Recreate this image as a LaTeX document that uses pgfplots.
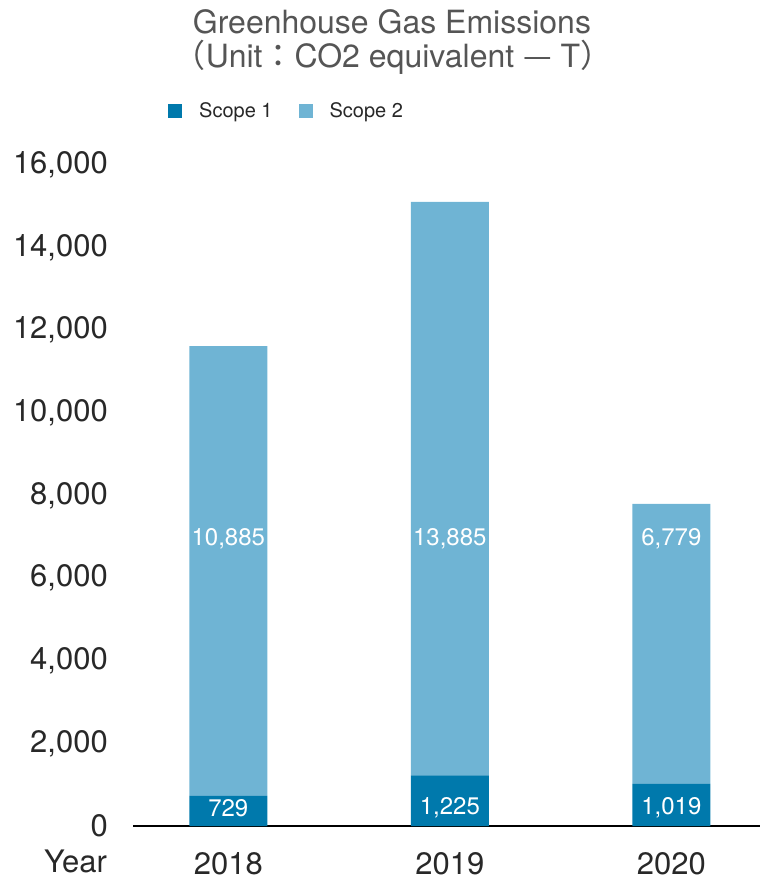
\documentclass[border=0pt]{standalone}
\usepackage{pgfplots}
\pgfplotsset{compat=1.18}
\usepackage{fontspec}
\setmainfont{TeX Gyre Heros}
\newfontfamily\cjk{Noto Sans CJK TC}
\definecolor{scopeone}{RGB}{0,121,172}
\definecolor{scopetwo}{RGB}{111,180,212}
\definecolor{titlegray}{RGB}{85,85,85}
\definecolor{ticktext}{RGB}{40,40,40}
\begin{document}
\begin{tikzpicture}[x=1pt,y=1pt]
\path[use as bounding box] (0,0) rectangle (760,880);
\begin{axis}[
  at={(133pt,54pt)}, anchor=south west,
  scale only axis, width=627pt, height=661pt,
  xmin=-0.43, xmax=2.40, ymin=0, ymax=16000,
  ybar stacked, bar width=78pt,
  xtick={0,1,2}, xticklabels={2018,2019,2020},
  ytick={0,2000,...,16000},
  scaled y ticks=false,
  axis x line*=bottom, axis y line*=left,
  y axis line style={draw=none},
  x axis line style={line width=2pt, black},
  major tick length=0pt,
  ticklabel style={font=\fontsize{31}{36}\selectfont, text=ticktext},
  yticklabel style={anchor=east, inner sep=0pt, xshift=-25pt, /pgf/number format/fixed, /pgf/number format/1000 sep={,}},
  xticklabel style={anchor=north, inner sep=0pt, yshift=-26pt},
  /pgf/number format/assume math mode=true,
  legend columns=2,
  legend style={at={(0.0558,1.0817)}, anchor=west, draw=none, fill=none, inner sep=0pt,
    font=\fontsize{20}{24}\selectfont, text=ticktext,
    /tikz/every odd column/.append style={column sep=15pt},
    /tikz/every even column/.append style={column sep=24pt}},
]
\addplot[draw=none, fill=scopeone, legend image code/.code={\fill[scopeone] (0pt,-7pt) rectangle (14pt,7pt);}]
  coordinates {(0,729) (1,1225) (2,1019)};
\addlegendentry{Scope 1}
\addplot[draw=none, fill=scopetwo, legend image code/.code={\fill[scopetwo] (0pt,-7pt) rectangle (14pt,7pt);}]
  coordinates {(0,10885) (1,13885) (2,6779)};
\addlegendentry{Scope 2}
\coordinate (t0) at (axis cs:0,6950);
\coordinate (t1) at (axis cs:1,6950);
\coordinate (t2) at (axis cs:2,6950);
\coordinate (b0) at (axis cs:0,430);
\coordinate (b1) at (axis cs:1,430);
\coordinate (b2) at (axis cs:2,430);
\end{axis}
\begin{scope}[every node/.style={font=\fontsize{24}{28}\selectfont, text=white}]
\node at (t0) {10,885};
\node at (t1) {13,885};
\node at (t2) {6,779};
\node at (b0) {729};
\node at (b1) {1,225};
\node at (b2) {1,019};
\end{scope}
\node[anchor=base east, inner sep=0pt, font=\fontsize{31}{36}\selectfont, text=ticktext] at (107,7) {Year};
\node[font=\fontsize{32}{38}\selectfont, text=titlegray] at (392,858) {Greenhouse Gas Emissions};
\node[font=\fontsize{32}{38}\selectfont, text=titlegray] at (393,823) {{\cjk （}Unit{\cjk ：}CO2 equivalent {\cjk —} T{\cjk ）}};
\end{tikzpicture}
\end{document}
